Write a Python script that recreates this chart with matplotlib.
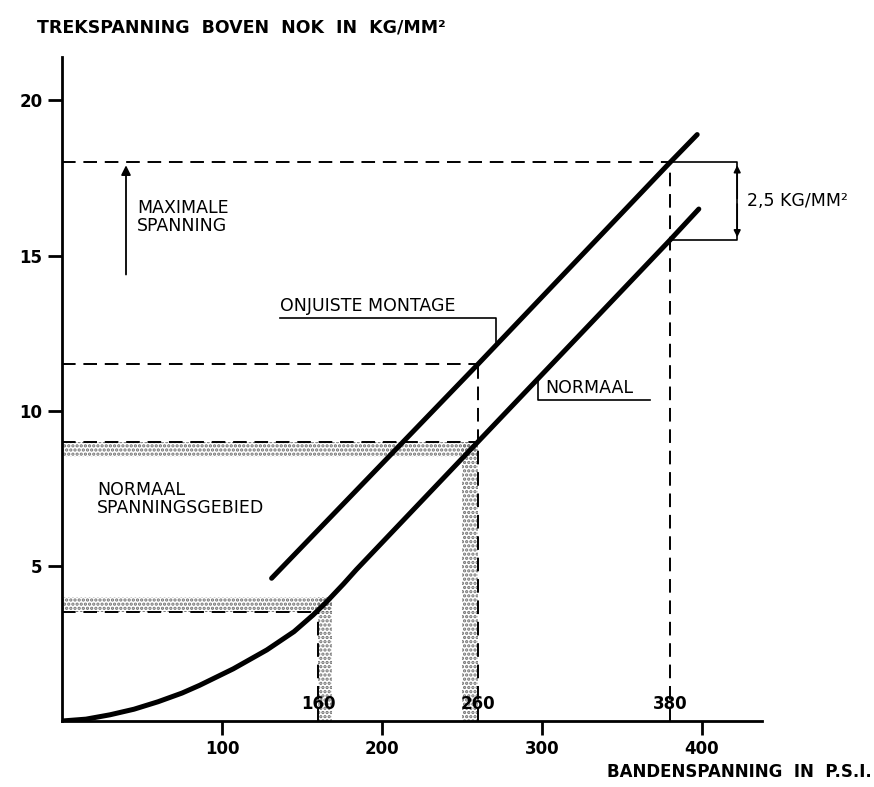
import numpy as np
import matplotlib.pyplot as plt

plt.rcParams['font.family'] = ['DejaVu Sans']
plt.rcParams['hatch.linewidth'] = 1.6

# normaal (correct mounting) curve
normaal_x = [0, 15, 30, 45, 60, 75, 86, 107, 128, 145, 157, 165, 176, 184, 260, 380, 398]
normaal_y = [0, 0.06, 0.2, 0.38, 0.62, 0.9, 1.15, 1.68, 2.29, 2.88, 3.42, 3.82, 4.42, 4.88,
             9.0, 15.5, 16.5]

# onjuiste montage (wrong mounting)
onjuist_x = [131, 260, 380, 397]
onjuist_y = [4.6, 11.5, 18.0, 18.9]

# stippled normal stress band
band_low = [3.5, 4.0]
band_high = [8.5, 9.0]
psi_low = [160, 169]
psi_high = [250, 260]

psi_marks = [160, 260, 380]
max_stress = 18.0
wrong_stress = 11.5
normal_at_380 = 15.5

x_ticks = [100, 200, 300, 400]
y_ticks = [5, 10, 15, 20]

fig = plt.figure(figsize=(8.74, 7.87), dpi=100)
ax = fig.add_axes([62 / 874, 66 / 787, 700 / 874, 664 / 787])
ax.set_xlim(0, 437.5)
ax.set_ylim(0, 21.4)

for s in ['top', 'right']:
    ax.spines[s].set_visible(False)
for s in ['left', 'bottom']:
    ax.spines[s].set_linewidth(2)

ax.set_xticks(x_ticks)
ax.set_yticks(y_ticks)
ax.tick_params(axis='both', width=2, length=10, labelsize=12, pad=4)
ax.set_xticklabels([str(v) for v in x_ticks], fontweight='bold')
ax.set_yticklabels([str(v) for v in y_ticks], fontweight='bold')

dash = dict(color='black', lw=1.4, linestyle=(0, (7, 4)))
stip = dict(facecolor='none', edgecolor='#707070', hatch='....', linewidth=0)

# stippled bands
ax.fill_between([0, psi_high[1]], band_high[0], band_high[1], **stip)
ax.fill_between([0, psi_low[1]], band_low[0], band_low[1], **stip)
ax.fill_betweenx([0, band_high[1]], psi_high[0], psi_high[1], **stip)
ax.fill_betweenx([0, band_low[1]], psi_low[0], psi_low[1], **stip)

# dashed guide lines
ax.plot([0, psi_high[1]], [band_high[1]] * 2, **dash)
ax.plot([0, psi_low[0]], [band_low[0]] * 2, **dash)
ax.plot([psi_low[0]] * 2, [0, band_low[0]], **dash)
ax.plot([psi_high[1]] * 2, [0, wrong_stress], **dash)
ax.plot([0, psi_high[1]], [wrong_stress] * 2, **dash)
ax.plot([0, psi_marks[2]], [max_stress] * 2, **dash)
ax.plot([psi_marks[2]] * 2, [0, max_stress], **dash)

# curves
ax.plot(normaal_x, normaal_y, color='black', lw=3.6, solid_capstyle='round', solid_joinstyle='round')
ax.plot(onjuist_x, onjuist_y, color='black', lw=3.6, solid_capstyle='round')

# 2.5 kg/mm2 bracket
ax.plot([psi_marks[2], 422, 422, 381], [max_stress, max_stress, normal_at_380, normal_at_380],
        color='black', lw=1.2)
ax.annotate('', xy=(422, max_stress), xytext=(422, 16.75),
            arrowprops=dict(arrowstyle='-|>', color='black', lw=1.2, mutation_scale=10))
ax.annotate('', xy=(422, normal_at_380), xytext=(422, 16.75),
            arrowprops=dict(arrowstyle='-|>', color='black', lw=1.2, mutation_scale=10))
ax.text(428, 16.75, '2,5 KG/MM²', fontsize=12.5, va='center', ha='left')

# maximale spanning arrow
ax.annotate('', xy=(40, max_stress), xytext=(40, 14.3),
            arrowprops=dict(arrowstyle='-|>', color='black', lw=1.3, mutation_scale=14))
ax.text(47, 16.25, 'MAXIMALE\nSPANNING', fontsize=12.5, va='center', ha='left', linespacing=1.0)

# leader labels
ax.text(136, 13.1, 'ONJUISTE MONTAGE', fontsize=12.5, va='bottom', ha='left')
ax.plot([136, 271, 271], [13.0, 13.0, 12.2], color='black', lw=1.2)
ax.text(302, 10.45, 'NORMAAL', fontsize=12.5, va='bottom', ha='left')
ax.plot([297.5, 297.5, 367.5], [11.0, 10.35, 10.35], color='black', lw=1.2)

ax.text(22, 7.15, 'NORMAAL\nSPANNINGSGEBIED', fontsize=12.5, va='center', ha='left', linespacing=1.0)

for v in psi_marks:
    ax.text(v, 0.55, str(v), fontsize=12, ha='center', va='center', fontweight='bold')

fig.text(37 / 874, 1 - 27 / 787, 'TREKSPANNING  BOVEN  NOK  IN  KG/MM²', fontsize=12.5,
         fontweight='bold', ha='left', va='center')
fig.text(872 / 874, 1 - 772 / 787, 'BANDENSPANNING  IN  P.S.I.', fontsize=12,
         fontweight='bold', ha='right', va='center')

fig.savefig('out.png', dpi=100)
